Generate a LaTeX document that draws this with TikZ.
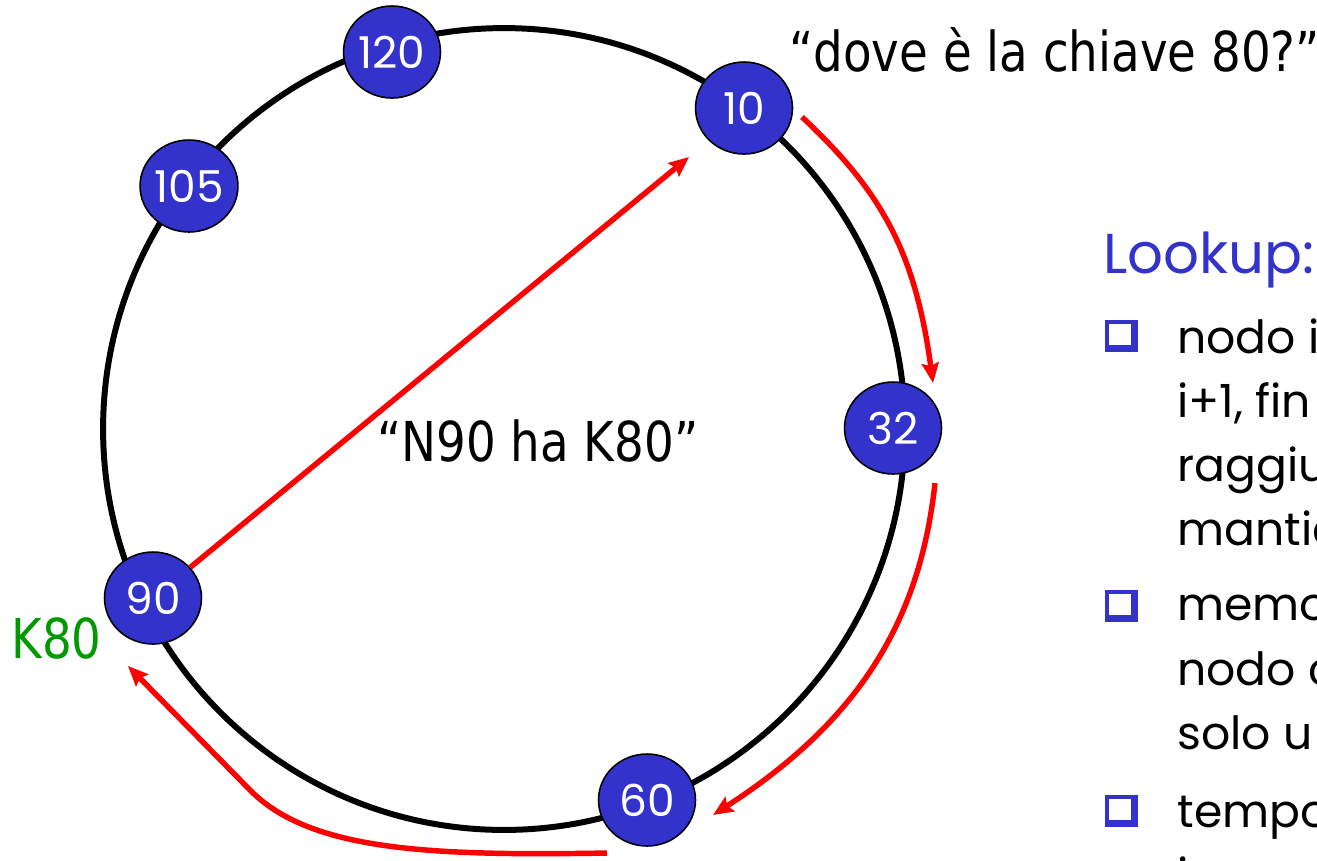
\documentclass[tikz,border=0pt]{standalone}
\usepackage{fontspec}
\setmainfont{Poppins}
\newfontfamily\tahomafont{DejaVu Sans}[FakeStretch=0.85]
\definecolor{PeerBlue}{RGB}{51, 51, 204}
\definecolor{KeyGreen}{RGB}{0, 153, 0}
\usepackage{tikz}
\usetikzlibrary{arrows.meta, shapes.geometric}

\begin{document}
\begin{tikzpicture}[
    x=0.02cm, y=-0.02cm,
    every node/.style={inner sep=0pt},
    peer/.style={ellipse, draw=black, line width=0.9pt, fill=PeerBlue, text=white, minimum width=1.94cm, minimum height=1.84cm, font=\fontsize{25pt}{26pt}\selectfont},
    lookup/.style={draw=red, line width=3.1pt, -{Stealth[length=0.4cm, width=0.34cm, inset=0.06cm]}},
    tahoma/.style={anchor=base west, font=\tahomafont\fontsize{31.3pt}{36pt}\selectfont},
    comic/.style={anchor=base west, font=\fontsize{26pt}{30pt}\selectfont}
]
\useasboundingbox (0,0) rectangle (1317,860);
\clip (0,0) rectangle (1317,860);

% anello
\draw[line width=3.4pt] (504,429) circle [radius=8.02cm];

% nodi
\node[peer] (n120) at (392,52) {120};
\node[peer] (n10) at (744,108) {10};
\node[peer] (n105) at (189,186) {105};
\node[peer] (n32) at (893,428) {32};
\node[peer] (n90) at (153,598) {90};
\node[peer] (n60) at (647,800) {60};

% testi
\node[tahoma] (query) at (789,71) {“dove è la chiave 80?”};
\node[tahoma] (reply) at (377,461) {“N90 ha K80”};
\node[tahoma, text=KeyGreen] (k80) at (11,658) {K80};

% percorso della richiesta
\coordinate (t1) at (689,157);
\coordinate (s2) at (802,117);
\coordinate (t2) at (933,383);
\coordinate (s3) at (935,483);
\coordinate (t3) at (713,815);
\coordinate (s4) at (607,853);
\coordinate (t4) at (128,666);
\draw[lookup] (n90) -- (t1);
\draw[lookup] (s2) .. controls (880,190) and (915,250) .. (t2);
\draw[lookup] (s3) .. controls (920,620) and (860,720) .. (t3);
\draw[lookup] (s4) .. controls (430,856) and (310,851) .. (250,790) -- (t4);

% Lookup
\node[comic, text=PeerBlue, font=\fontsize{32pt}{36pt}\selectfont] (title) at (1103,273) {Lookup:};
\foreach \y in {320, 590, 795} {
  \fill[PeerBlue] (1105,\y) rectangle (1138,\y+32);
  \fill[white] (1109,\y+4) rectangle (1131,\y+25);
}
\node[comic] (l1) at (1177,353) {nodo i};
\node[comic] (l2) at (1177,417) {i+1, fin};
\node[comic] (l3) at (1177,481) {raggiu};
\node[comic] (l4) at (1177,545) {mantie};
\node[comic] (l5) at (1177,620) {memor};
\node[comic] (l6) at (1177,685) {nodo c};
\node[comic] (l7) at (1177,749) {solo u};
\node[comic] (l8) at (1177,827) {tempo};
\node[comic] (l9) at (1177,891) {i};
\end{tikzpicture}
\end{document}
